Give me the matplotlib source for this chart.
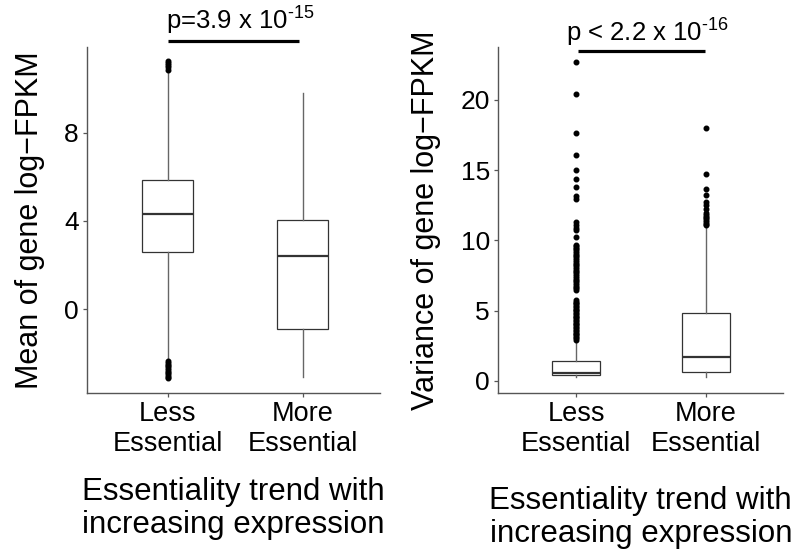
import matplotlib
matplotlib.use("Agg")
import matplotlib.pyplot as plt

plt.rcParams['font.family'] = ['Liberation Sans', 'DejaVu Sans']
plt.rcParams['mathtext.fontset'] = 'custom'
plt.rcParams['mathtext.rm'] = 'Liberation Sans'
plt.rcParams['mathtext.it'] = 'Liberation Sans:italic'
plt.rcParams['mathtext.bf'] = 'Liberation Sans:bold'

categories = ["Less\nEssential", "More\nEssential"]

# Panel 1: mean of gene log-FPKM
mean_q1 = [2.60, -0.91]
mean_med = [4.32, 2.40]
mean_q3 = [5.84, 4.04]
mean_whislo = [-2.30, -3.05]
mean_whishi = [10.76, 9.78]
mean_out_less = [11.25, 11.15, 11.05, 10.95, 10.85,
                 -2.33, -2.42, -2.50, -2.58, -2.66, -2.74, -2.82, -2.90, -2.98, -3.05, -3.13]
mean_out_more = []
mean_ticks = [0, 4, 8]
mean_p = r"p=3.9 x 10$^{\text{-15}}$"

# Panel 2: variance of gene log-FPKM
var_q1 = [0.40, 0.64]
var_med = [0.59, 1.73]
var_q3 = [1.40, 4.82]
var_whislo = [0.28, 0.28]
var_whishi = [2.92, 10.98]
var_out_less = [2.95, 3.05, 3.15, 3.25, 3.35, 3.45, 3.55, 3.65, 3.75, 3.85, 3.95,
                4.05, 4.15, 4.25, 4.35, 4.45, 4.55, 4.65, 4.75, 4.85, 4.95, 5.05,
                5.15, 5.25, 5.35, 5.45, 5.55, 5.65, 5.77,
                6.48, 6.60, 6.72, 6.85, 6.97, 7.10, 7.22, 7.35, 7.48, 7.60, 7.73,
                7.85, 7.98, 8.10, 8.23, 8.36, 8.50, 8.62, 8.75, 8.88, 9.00, 9.12,
                9.25, 9.38, 9.50, 9.60, 9.68,
                10.27, 10.75, 10.91, 11.10, 11.34, 12.93, 13.17, 13.78, 14.40,
                15.02, 16.06, 17.63, 20.45, 22.73]
var_out_more = [11.08, 11.20, 11.32, 11.45, 11.58, 11.70, 11.82, 11.93, 12.22,
                12.50, 12.76, 13.21, 13.69, 14.71, 17.98]
var_ticks = [0, 5, 10, 15, 20]
var_p = r"p < 2.2 x 10$^{\text{-16}}$"

ylabel_mean = "Mean of gene log\u2212FPKM"
ylabel_var = "Variance of gene log\u2212FPKM"
xlabel = "Essentiality trend with\nincreasing expression"

W, H = 811, 557
fig = plt.figure(figsize=(W / 100, H / 100), dpi=100)

def fpos(x0, y0, x1, y1):
    return [x0 / W, 1 - y1 / H, (x1 - x0) / W, (y1 - y0) / H]

ax1 = fig.add_axes(fpos(87.3, 46.7, 380, 393))
ax2 = fig.add_axes(fpos(498.3, 46.7, 783.3, 393))

def make_stats(q1, med, q3, lo, hi, outs):
    st = []
    for i in range(len(q1)):
        st.append(dict(q1=q1[i], med=med[i], q3=q3[i], whislo=lo[i], whishi=hi[i],
                       fliers=outs[i], label=categories[i]))
    return st

box_kw = dict(
    showcaps=False,
    patch_artist=True,
    boxprops=dict(facecolor='white', edgecolor='#333333', linewidth=0.9),
    medianprops=dict(color='#333333', linewidth=1.6),
    whiskerprops=dict(color='#666666', linewidth=1.0),
    flierprops=dict(marker='o', markerfacecolor='black', markeredgecolor='black',
                    markersize=3.3, linestyle='none'),
)

ax1.bxp(make_stats(mean_q1, mean_med, mean_q3, mean_whislo, mean_whishi,
                   [mean_out_less, mean_out_more]),
        positions=[1, 2], widths=0.375, **box_kw)
ax2.bxp(make_stats(var_q1, var_med, var_q3, var_whislo, var_whishi,
                   [var_out_less, var_out_more]),
        positions=[1, 2], widths=0.37, **box_kw)

ax1.set_xlim(0.404, 2.573)
ax1.set_ylim(-3.79, 11.89)
ax2.set_xlim(0.402, 2.595)
ax2.set_ylim(-0.854, 23.79)
ax1.set_yticks(mean_ticks)
ax2.set_yticks(var_ticks)

for ax, yl, pad_x in [(ax1, ylabel_mean, 14), (ax2, ylabel_var, 21)]:
    for s in ['top', 'right']:
        ax.spines[s].set_visible(False)
    for s in ['left', 'bottom']:
        ax.spines[s].set_color('#555555')
        ax.spines[s].set_linewidth(1.0)
    ax.set_xticks([1, 2])
    ax.set_xticklabels(categories, fontsize=19.5, linespacing=1.2)
    ax.tick_params(axis='both', length=3, width=0.9, color='#555555',
                   labelcolor='black')
    ax.tick_params(axis='y', labelsize=19, pad=3)
    ax.tick_params(axis='x', pad=3)
    ax.set_ylabel(yl, fontsize=22)
    ax.set_xlabel(xlabel, fontsize=22.5, linespacing=1.12, labelpad=pad_x)

ax1.yaxis.set_label_coords(-0.1455, 0.5)
ax2.yaxis.set_label_coords(-0.1996, 0.5)

# significance bars
ax1.plot([1.0, 1.97], [12.14, 12.14], color='black', linewidth=2.3, clip_on=False,
         solid_capstyle='butt')
ax1.text(1.54, 12.65, mean_p, ha='center', va='baseline', fontsize=18.5)
ax2.plot([1.018, 1.99], [23.49, 23.49], color='black', linewidth=2.3, clip_on=False,
         solid_capstyle='butt')
ax2.text(1.55, 24.15, var_p, ha='center', va='baseline', fontsize=18.5)

fig.savefig("out.png", dpi=100)
